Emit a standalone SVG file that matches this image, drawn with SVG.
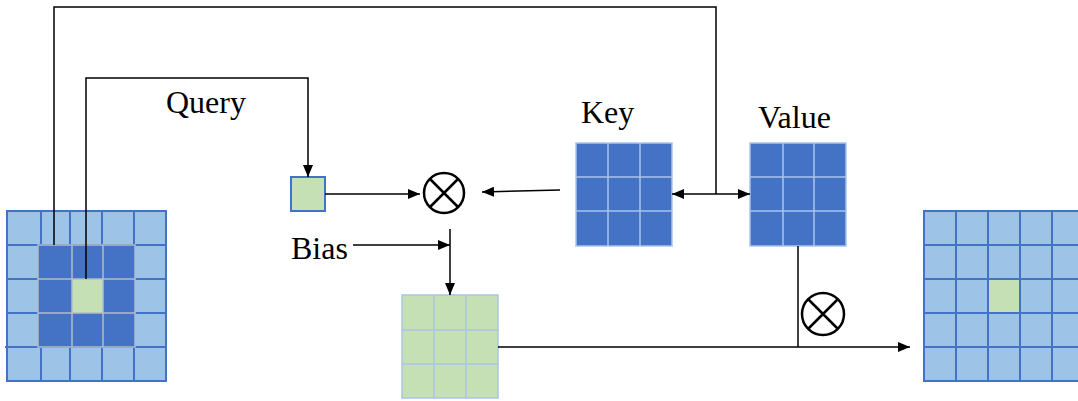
<svg xmlns="http://www.w3.org/2000/svg" width="1078" height="401" viewBox="0 0 1078 401">
  <style>
    .lbl { font-family: "Liberation Serif", "Times New Roman", serif; font-size: 32px; fill: #000; }
    .wire { fill: none; stroke: #000; stroke-width: 1.5; }
    .light { fill: #9DC3E6; }
    .gridBlue { stroke: #4472C4; stroke-width: 2; fill: none; }
    .dark { fill: #4472C4; }
    .gridPale { stroke: #A9C4EB; stroke-width: 1.5; fill: none; }
    .gridGray { stroke: #B4BCC8; stroke-width: 1.5; fill: none; }
    .green { fill: #C5E0B4; }
    .op { fill: #fff; stroke: #000; stroke-width: 2.5; }
  </style>
  <defs>
    <marker id="arrow" viewBox="0 0 12 10" refX="12" refY="5" markerWidth="12" markerHeight="10" markerUnits="userSpaceOnUse" orient="auto-start-reverse">
      <path d="M0,0 L12,5 L0,10 Z" fill="#000"/>
    </marker>
  </defs>

  <!-- input feature map (5x5) with 3x3 window -->
  <g id="input-map">
    <rect class="light" x="7" y="211" width="159" height="170"/>
    <path class="gridBlue" d="M7,211 H166 V381 H7 Z M41,211 V381 M70,211 V381 M102,211 V381 M134,211 V381 M7,245 H166 M7,279 H166 M7,313 H166 M5,347 H166"/>
    <rect class="dark" x="38" y="245" width="97" height="102"/>
    <rect class="green" x="72" y="279" width="31" height="34"/>
    <path class="gridGray" d="M38,245 H135 V347 H38 Z M72,245 V347 M103,245 V347 M38,279 H135 M38,313 H135"/>
  </g>

  <!-- query pixel -->
  <g id="query">
    <rect x="291" y="177" width="34" height="34" fill="#C5E0B4" stroke="#4472C4" stroke-width="2"/>
    <text class="lbl" x="166" y="113">Query</text>
  </g>

  <!-- key 3x3 -->
  <g id="key">
    <rect class="dark" x="576" y="143" width="96" height="103"/>
    <path class="gridPale" d="M576,143 H672 V246 H576 Z M608,143 V246 M640,143 V246 M576,177 H672 M576,211 H672"/>
    <text class="lbl" x="581" y="123">Key</text>
  </g>

  <!-- value 3x3 -->
  <g id="value">
    <rect class="dark" x="750" y="143" width="96" height="103"/>
    <path class="gridPale" d="M750,143 H846 V246 H750 Z M783,143 V246 M814,143 V246 M750,177 H846 M750,211 H846"/>
    <text class="lbl" x="758" y="128">Value</text>
  </g>

  <!-- attention weights 3x3 -->
  <g id="weights">
    <rect class="green" x="402" y="295" width="96" height="103"/>
    <path class="gridPale" d="M402,295 H498 V398 H402 Z M434,295 V398 M466,295 V398 M402,330 H498 M402,364 H498"/>
  </g>

  <!-- bias label -->
  <g id="bias">
    <text class="lbl" x="291" y="259">Bias</text>
  </g>

  <!-- multiply operators -->
  <g id="mul-qk">
    <circle class="op" cx="444" cy="193" r="20"/>
    <path d="M430,179 L458,207 M458,179 L430,207" stroke="#000" stroke-width="2.5"/>
  </g>
  <g id="mul-v">
    <circle class="op" cx="823" cy="314" r="21"/>
    <path d="M808.5,299.5 L837.5,328.5 M837.5,299.5 L808.5,328.5" stroke="#000" stroke-width="2.5"/>
  </g>

  <!-- output feature map (5x5) -->
  <g id="output-map">
    <rect class="light" x="924" y="211" width="160" height="170"/>
    <rect class="green" x="988" y="279" width="32" height="34"/>
    <path class="gridBlue" d="M924,211 H1084 V381 H924 Z M956,211 V381 M988,211 V381 M1020,211 V381 M1052,211 V381 M924,245 H1084 M924,279 H1084 M924,313 H1084 M924,347 H1084"/>
  </g>

  <!-- connectors -->
  <g id="connectors">
    <path class="wire" d="M54,245 V7 H716 V194"/>
    <path class="wire" d="M716,194 H672" marker-end="url(#arrow)"/>
    <path class="wire" d="M716,194 H750" marker-end="url(#arrow)"/>
    <path class="wire" d="M86,279 V78 H308 V177" marker-end="url(#arrow)"/>
    <path class="wire" d="M325,194 L420,194" marker-end="url(#arrow)"/>
    <path class="wire" d="M560,190 L482,192" marker-end="url(#arrow)"/>
    <path class="wire" d="M353,245 H450" marker-end="url(#arrow)"/>
    <path class="wire" d="M450,229 V295" marker-end="url(#arrow)"/>
    <path class="wire" d="M498,347 H910" marker-end="url(#arrow)"/>
    <path class="wire" d="M798,246 V347"/>
  </g>
</svg>
